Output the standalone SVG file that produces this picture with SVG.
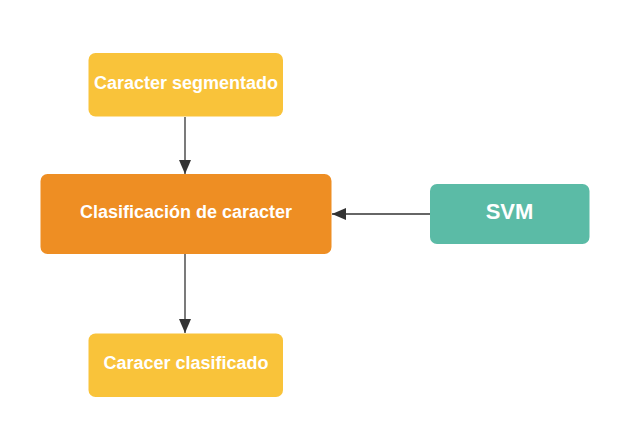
<svg xmlns="http://www.w3.org/2000/svg" width="632" height="429" viewBox="0 0 632 429">
<style>
.t{font-family:"Liberation Sans",Arial,sans-serif;font-weight:bold;fill:#FFFFFF;text-anchor:middle;dominant-baseline:central}
.c{stroke:#333333;stroke-width:1.3;fill:none}
</style>
<defs>
<marker id="ah" markerUnits="userSpaceOnUse" markerWidth="14" markerHeight="12" refX="14" refY="6" orient="auto">
<path d="M0,0 L14,6 L0,12 Z" fill="#333333"/>
</marker>
</defs>
<rect width="632" height="429" fill="#FFFFFF"/>
<g id="connectors">
<path class="c" d="M185,117 V174" marker-end="url(#ah)"/>
<path class="c" d="M185,254 V333" marker-end="url(#ah)"/>
<path class="c" d="M430,214 H332" marker-end="url(#ah)"/>
</g>
<g id="n1">
<rect x="88.5" y="53" width="194.5" height="63.5" rx="7" fill="#F9C33A"/>
<text class="t" x="186" y="83" font-size="18">Caracter segmentado</text>
</g>
<g id="n2">
<rect x="40.5" y="174" width="291" height="80" rx="7" fill="#EE8E23"/>
<text class="t" x="186" y="212" font-size="18">Clasificación de caracter</text>
</g>
<g id="n3">
<rect x="430" y="184" width="159.5" height="60" rx="7" fill="#5BBBA6"/>
<text class="t" x="509.5" y="211" font-size="22">SVM</text>
</g>
<g id="n4">
<rect x="88.5" y="333.5" width="194.5" height="63.5" rx="7" fill="#F9C33A"/>
<text class="t" x="186" y="363" font-size="18">Caracer clasificado</text>
</g>
</svg>
